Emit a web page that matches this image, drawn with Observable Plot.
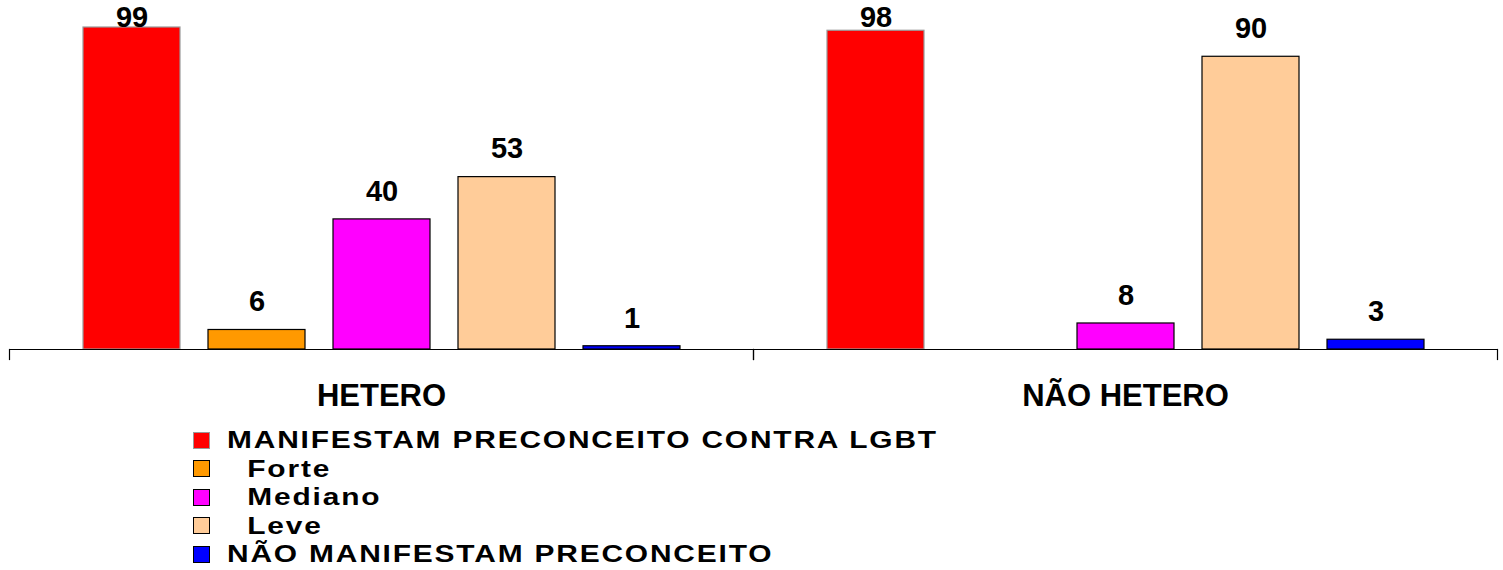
<!DOCTYPE html>
<html>
<head>
<meta charset="utf-8">
<script src="https://cdn.jsdelivr.net/npm/d3@7"></script>
<script src="https://cdn.jsdelivr.net/npm/@observablehq/plot@0.6"></script>
<style>
  body { margin: 0; background: #fff; font-family: "Liberation Sans", Arial, sans-serif; }
  #legend { margin-left: 193px; margin-top: 16px; font-weight: bold; font-size: 24.5px; }
  .item { display: flex; align-items: center; height: 28.5px; }
  .sw { width: 15px; height: 15px; border: 1px solid #000; margin-right: 17px; flex: none; }
  .txt { white-space: pre; letter-spacing: 1.5px; line-height: 28px; height: 28px; display: inline-block;
         transform: scaleX(1.22); transform-origin: left center; }
</style>
</head>
<body>
<div id="chart"></div>
<div id="legend"></div>
<script>
const groups = ["HETERO", "NÃO HETERO"];
const series = ["MANIFESTAM PRECONCEITO CONTRA LGBT", "Forte", "Mediano", "Leve", "NÃO MANIFESTAM PRECONCEITO"];
const legendLabels = ["MANIFESTAM PRECONCEITO CONTRA LGBT", "  Forte", "  Mediano", "  Leve", "NÃO MANIFESTAM PRECONCEITO"];
const heteroValues = [99, 6, 40, 53, 1];
const naoHeteroValues = [98, null, 8, 90, 3];
const colors = ["#FF0000", "#FF9900", "#FF00FF", "#FFCC99", "#0000FF"];
const strokes = ["#999999", "#000000", "#000000", "#000000", "#000000"];

const rows = [];
[heteroValues, naoHeteroValues].forEach((vals, gi) => {
  vals.forEach((v, si) => {
    if (v != null) rows.push({group: groups[gi], series: series[si], value: v, si});
  });
});

const font = "Liberation Sans, Arial, sans-serif";

const chart = Plot.plot({
  width: 1503,
  height: 410,
  marginTop: 27,
  marginBottom: 61,
  marginLeft: 8,
  marginRight: 6,
  style: {fontFamily: font, background: "white", overflow: "visible"},
  fx: {domain: groups, padding: 0, label: null},
  x: {domain: series, paddingInner: 0.228, paddingOuter: 0.58, axis: null},
  y: {domain: [0, 99], axis: null},
  marks: [
    Plot.barY(rows, {
      fx: "group", x: "series", y: "value",
      fill: d => colors[d.si], stroke: d => strokes[d.si], strokeWidth: 1.2
    }),
    Plot.ruleY([0], {stroke: "black", strokeWidth: 1.2}),
    Plot.frame({anchor: "left", stroke: "black", strokeWidth: 1.2, insetTop: 322, insetBottom: -10}),
    Plot.frame({anchor: "right", stroke: "black", strokeWidth: 1.2, insetTop: 322, insetBottom: -10}),
    Plot.text(rows, {
      fx: "group", x: "series", y: "value", text: d => String(d.value),
      fontWeight: "bold", fontSize: 29, fill: "black", lineAnchor: "middle",
      render(index, scales, values, dimensions, context, next) {
        const y = Array.from(values.y, v => Math.max(v - 28, 17.5));
        return next(index, scales, {...values, y}, dimensions, context);
      }
    }),
    Plot.axisFx({anchor: "bottom", tickSize: 0, tickPadding: 34, fontSize: 31, fontWeight: "bold", fill: "black", label: null})
  ]
});
document.getElementById("chart").appendChild(chart);

const legend = document.getElementById("legend");
series.forEach((s, i) => {
  const item = document.createElement("div");
  item.className = "item";
  const sw = document.createElement("span");
  sw.className = "sw";
  sw.style.background = colors[i];
  sw.style.borderColor = i === 0 ? "#999" : "#000";
  const t = document.createElement("span");
  t.className = "txt";
  t.textContent = legendLabels[i];
  item.appendChild(sw);
  item.appendChild(t);
  legend.appendChild(item);
});
</script>
</body>
</html>
